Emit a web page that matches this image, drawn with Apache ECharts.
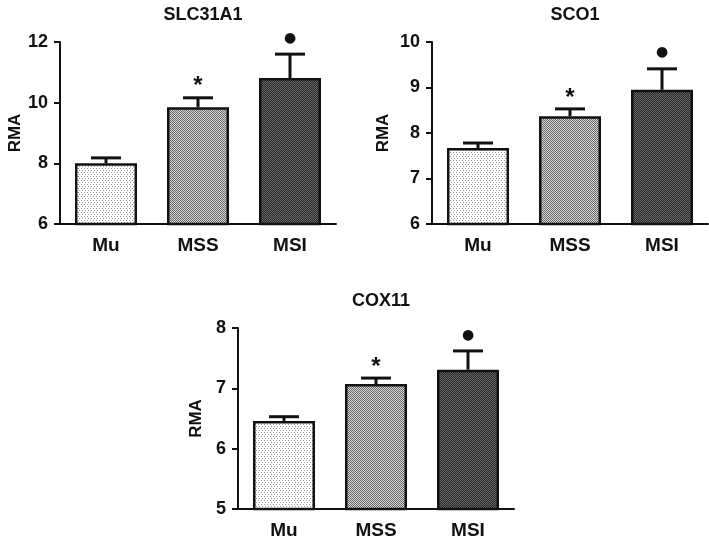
<!DOCTYPE html>
<html>
<head>
<meta charset="utf-8">
<script src="https://cdn.jsdelivr.net/npm/echarts@6/dist/echarts.min.js"></script>
<style>
html, body { margin: 0; padding: 0; background: #fff; }
#main { width: 709px; height: 540px; }
</style>
</head>
<body>
<div id="main"></div>
<script>
// group names on every x axis
var groups = ['Mu', 'MSS', 'MSI'];
// significance marks above each bar
var marks = ['', '*', '●'];

// SLC31A1
var slcMean = [8.0, 9.85, 10.81];
var slcErr = [0.18, 0.31, 0.79];
// SCO1
var scoMean = [7.67, 8.37, 8.95];
var scoErr = [0.11, 0.16, 0.46];
// COX11
var coxMean = [6.46, 7.07, 7.31];
var coxErr = [0.07, 0.1, 0.31];

var font = 'Liberation Sans, Arial, sans-serif';

// fill patterns for the bars
function pattern(w, h, bg, fg, pts) {
  var c = document.createElement('canvas');
  c.width = w; c.height = h;
  var ctx = c.getContext('2d');
  ctx.fillStyle = bg;
  ctx.fillRect(0, 0, w, h);
  ctx.fillStyle = fg;
  pts.forEach(function (p) { ctx.fillRect(p[0], p[1], 1, 1); });
  return { image: c, repeat: 'repeat' };
}
var fills = [
  pattern(3, 4, '#ffffff', '#9a9a9a', [[0, 0], [1, 2]]),
  pattern(2, 2, '#d8d8d8', '#666666', [[0, 0], [1, 1]]),
  pattern(2, 2, '#2a2a2a', '#666666', [[0, 0], [1, 1]])
];

var myChart = echarts.init(document.getElementById('main'));

var option = {
  backgroundColor: '#fff',
  animation: false,
  title: [],
  grid: [],
  xAxis: [],
  yAxis: [],
  series: []
};

function addPanel(i, name, mean, err, grid, yMin, yMax, step, nameGap, titlePos) {
  option.title.push({
    text: name,
    left: titlePos[0], top: titlePos[1],
    textAlign: 'center',
    textStyle: { fontFamily: font, fontWeight: 'bold', fontSize: 18, color: '#111' }
  });
  option.grid.push(grid);
  option.xAxis.push({
    type: 'category',
    gridIndex: i,
    data: groups,
    boundaryGap: true,
    axisLine: { lineStyle: { color: '#111', width: 2 } },
    axisTick: { alignWithLabel: true, length: 4, lineStyle: { color: '#111', width: 2 } },
    axisLabel: { margin: 12, fontFamily: font, fontWeight: 'bold', fontSize: 19, color: '#111' }
  });
  option.yAxis.push({
    type: 'value',
    gridIndex: i,
    min: yMin, max: yMax, interval: step,
    name: 'RMA',
    nameLocation: 'middle',
    nameRotate: 90,
    nameGap: nameGap,
    nameTextStyle: { fontFamily: font, fontWeight: 'bold', fontSize: 17, color: '#111' },
    splitLine: { show: false },
    axisLine: { show: true, lineStyle: { color: '#111', width: 2 } },
    axisTick: { show: true, length: 6, lineStyle: { color: '#111', width: 2 } },
    axisLabel: { margin: 12, fontFamily: font, fontWeight: 'bold', fontSize: 18, color: '#111' }
  });
  option.series.push({
    type: 'bar',
    xAxisIndex: i, yAxisIndex: i,
    barWidth: 62,
    data: mean.map(function (v, k) {
      return { value: v, itemStyle: { color: fills[k], borderColor: '#111', borderWidth: 2.5 } };
    }),
    z: 3
  });
  option.series.push({
    type: 'custom',
    xAxisIndex: i, yAxisIndex: i,
    data: mean.map(function (v, k) { return [k, v, err[k]]; }),
    z: 2,
    renderItem: function (params, api) {
      var k = api.value(0);
      var base = api.coord([k, api.value(1)]);
      var top = api.coord([k, api.value(1) + api.value(2)]);
      var children = [
        { type: 'line', shape: { x1: base[0], y1: base[1], x2: top[0], y2: top[1] },
          style: { stroke: '#111', lineWidth: 3 } },
        { type: 'line', shape: { x1: top[0] - 15, y1: top[1], x2: top[0] + 15, y2: top[1] },
          style: { stroke: '#111', lineWidth: 3 } }
      ];
      var m = marks[k];
      if (m) {
        children.push({
          type: 'text',
          style: {
            text: m, x: top[0], y: top[1] - (m === '*' ? 11 : 16),
            align: 'center', verticalAlign: 'middle',
            font: m === '*' ? 'bold 24px ' + font : '14px DejaVu Sans',
            fill: '#111'
          }
        });
      }
      return { type: 'group', children: children };
    }
  });
}

addPanel(0, 'SLC31A1', slcMean, slcErr,
  { left: 60, right: 373, top: 42, bottom: 316 }, 6, 12, 2, 35, [198, 1]);
addPanel(1, 'SCO1', scoMean, scoErr,
  { left: 432, right: 1, top: 42, bottom: 316 }, 6, 10, 1, 40, [570, 1]);
addPanel(2, 'COX11', coxMean, coxErr,
  { left: 238, right: 195, top: 328, bottom: 29 }, 5, 8, 1, 33, [376, 287]);

myChart.setOption(option);
</script>
</body>
</html>
